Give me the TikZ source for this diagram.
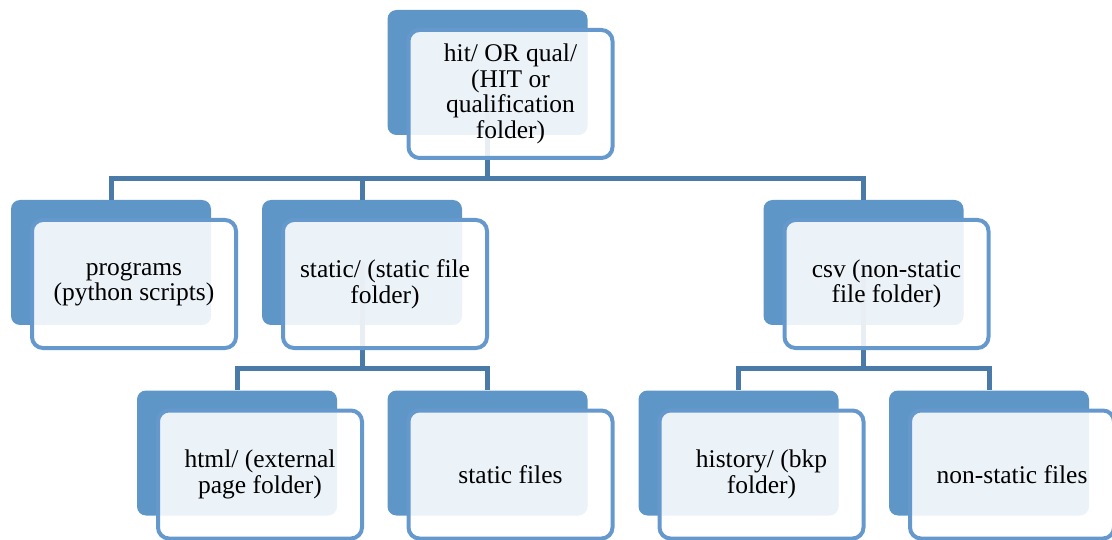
\documentclass[tikz,border=0pt]{standalone}
\usepackage{fontspec}
\setmainfont{Liberation Serif}

\definecolor{boxblue}{RGB}{95,150,200}
\definecolor{rimblue}{RGB}{101,153,205}
\definecolor{linkblue}{RGB}{74,122,168}

\tikzset{
  backbox/.style={fill=boxblue, rounded corners=9pt, inner sep=0pt,
    minimum width=200pt, minimum height=125pt},
  frontbox/.style={draw=rimblue, line width=4pt, rounded corners=11pt,
    fill=white, fill opacity=0.88, text opacity=1,
    minimum width=204pt, minimum height=128pt, align=center,
    font=\fontsize{25.5}{25.5}\selectfont},
  link/.style={draw=linkblue, line width=5pt},
}

\begin{document}
\begin{tikzpicture}[x=1pt,y=-1pt]
  \useasboundingbox (0,0) rectangle (1112,540);

  % Blue panels behind each folder.
  \node[backbox] (root)    at (487.5,72.5) {};
  \node[backbox] (progs)   at (111,262.5)  {};
  \node[backbox] (static)  at (362,262.5)  {};
  \node[backbox] (csv)     at (863.5,262.5) {};
  \node[backbox] (html)    at (237,453)    {};
  \node[backbox] (sfiles)  at (487.5,453)  {};
  \node[backbox] (hist)    at (738.5,453)  {};
  \node[backbox] (nsfiles) at (989,453)    {};

  % Tree lines, under the white cards.
  \coordinate (bus1) at (0,178.5);
  \coordinate (bus2) at (0,368.5);
  \foreach \kid in {progs,static,csv}
    \draw[link] (root.center) |- (bus1 -| \kid) -- (\kid.north);
  \foreach \kid in {html,sfiles}
    \draw[link] (static.center) |- (bus2 -| \kid) -- (\kid.north);
  \foreach \kid in {hist,nsfiles}
    \draw[link] (csv.center) |- (bus2 -| \kid) -- (\kid.north);

  % White cards with the folder names.
  \node[frontbox] (root-t)    at ([shift={(23,21.5)}]root)    {hit/ OR qual/\\(HIT or\\qualification\\folder)};
  \node[frontbox] (progs-t)   at ([shift={(23,21.5)}]progs)   {programs\\(python scripts)};
  \node[frontbox] (static-t)  at ([shift={(23,21.5)}]static)  {static/ (static file\\folder)};
  \node[frontbox] (csv-t)     at ([shift={(23,21.5)}]csv)     {csv (non-static\\file folder)};
  \node[frontbox] (html-t)    at ([shift={(23,21.5)}]html)    {html/ (external\\page folder)};
  \node[frontbox] (sfiles-t)  at ([shift={(23,21.5)}]sfiles)  {static files};
  \node[frontbox] (hist-t)    at ([shift={(23,21.5)}]hist)    {history/ (bkp\\folder)};
  \node[frontbox] (nsfiles-t) at ([shift={(23,21.5)}]nsfiles) {non-static files};
\end{tikzpicture}
\end{document}
